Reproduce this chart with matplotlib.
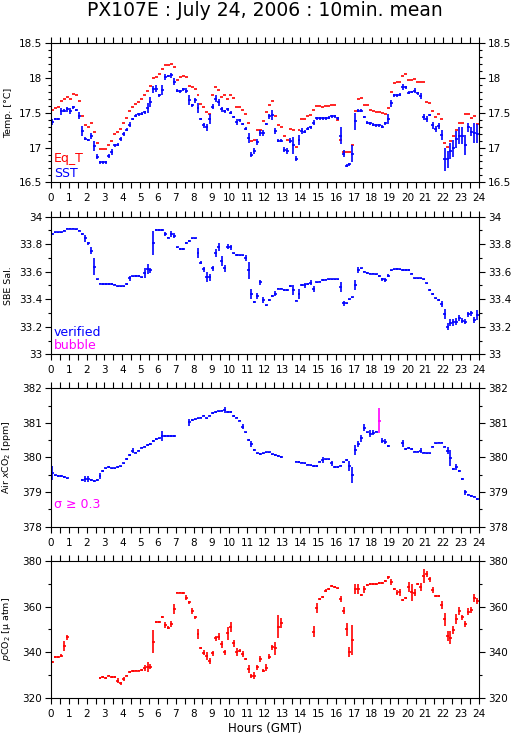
import numpy as np
import matplotlib
matplotlib.use("Agg")
import matplotlib.pyplot as plt  # noqa: E402
from matplotlib.ticker import MultipleLocator, FuncFormatter  # noqa: E402

nan = np.nan

# 10-minute means, 144 slots per day (one row = 2 hours)
eq_t = [
    17.54, 17.57, 17.58, 17.67, 17.70, 17.73, 17.70, 17.77, 17.75, 17.67, 17.46, 17.32,
    17.30, 17.35, 17.23, 17.06, 16.98, 16.98, 16.98, 17.04, 17.10, 17.20, 17.22, 17.27,
    17.35, 17.43, 17.52, 17.59, 17.63, 17.66, 17.70, 17.75, 17.81, 17.88, 18.00, 18.01,
    18.06, 18.13, 18.19, 18.19, 18.21, 18.16, 17.98, 18.02, 18.03, 18.01, 17.89, 17.87,
    17.85, 17.75, 17.63, 17.58, 17.51, 17.49, 17.76, 17.87, 17.83, 17.73, 17.75, 17.70,
    17.75, 17.71, 17.58, 17.58, 17.54, 17.48, 17.36, 17.10, 17.11, 17.25, 17.25, 17.38,
    17.51, 17.61, 17.67, 17.46, 17.32, 17.29, 17.17, 17.11, 17.27, 17.26, 17.01, 17.26,
    17.41, 17.41, 17.46, 17.47, 17.54, 17.60, 17.60, 17.58, 17.60, 17.60, 17.61, 17.61,
    17.40, 17.11, 16.93, 16.93, 16.93, 17.03, 17.52, 17.70, 17.71, 17.62, 17.61, 17.54,
    17.52, 17.51, 17.51, 17.50, 17.49, 17.57, 17.80, 17.93, 17.94, 17.94, 18.03, 18.06,
    17.97, 17.97, 17.99, 17.94, 17.94, 17.94, 17.66, 17.64, 17.52, 17.44, 17.48, 17.41,
    17.06, 17.01, 17.09, 17.17, 17.26, 17.36, 17.35, 17.48, 17.48, 17.42, 17.45, 17.34,
]

sst = [
    17.37, 17.41, 17.41, 17.52, 17.53, 17.55, 17.53, 17.58, 17.54, 17.46, 17.24, 17.13,
    17.11, 17.17, 17.02, 16.87, 16.79, 16.79, 16.79, 16.88, 16.94, 17.03, 17.04, 17.12,
    17.19, 17.26, 17.33, 17.41, 17.46, 17.48, 17.49, 17.51, 17.57, 17.66, 17.84, 17.85,
    17.75, 17.83, 18.02, 18.03, 18.04, 17.95, 17.82, 17.81, 17.84, 17.82, 17.68, 17.61,
    17.68, 17.57, 17.41, 17.32, 17.29, 17.41, 17.59, 17.70, 17.65, 17.55, 17.52, 17.55,
    17.50, 17.44, 17.37, 17.39, 17.34, 17.27, 17.14, 16.90, 16.95, 17.08, 17.21, 17.21,
    17.34, 17.45, 17.47, 17.24, 17.10, 17.10, 16.97, 16.95, 17.10, 17.03, 16.84, 17.11,
    17.24, 17.23, 17.27, 17.29, 17.36, 17.42, 17.42, 17.42, 17.42, 17.43, 17.45, 17.45,
    17.42, 17.17, 16.91, 16.74, 16.76, 16.91, 17.38, 17.53, 17.53, 17.44, 17.36, 17.35,
    17.33, 17.32, 17.32, 17.30, 17.35, 17.41, 17.64, 17.75, 17.75, 17.76, 17.87, 17.87,
    17.79, 17.80, 17.82, 17.78, 17.74, 17.44, 17.41, 17.47, 17.32, 17.27, 17.31, 17.18,
    16.83, 16.83, 16.95, 16.99, 17.12, 17.17, 17.17, 17.04, 17.29, 17.23, 17.21, 17.20,
]
sst_sd = [
    0.04, 0.02, 0.02, 0.05, 0.02, 0.04, 0.04, 0.02, 0.02, 0.05, 0.07, 0.02,
    0.02, 0.04, 0.07, 0.04, 0.02, 0.02, 0.02, 0.03, 0.04, 0.02, 0.02, 0.03,
    0.03, 0.02, 0.04, 0.02, 0.02, 0.02, 0.02, 0.02, 0.07, 0.07, 0.05, 0.05,
    0.02, 0.07, 0.04, 0.02, 0.04, 0.05, 0.02, 0.02, 0.02, 0.04, 0.07, 0.02,
    0.04, 0.07, 0.02, 0.04, 0.05, 0.07, 0.04, 0.05, 0.05, 0.04, 0.02, 0.02,
    0.02, 0.02, 0.04, 0.02, 0.02, 0.02, 0.07, 0.04, 0.04, 0.04, 0.04, 0.04,
    0.02, 0.04, 0.07, 0.04, 0.02, 0.02, 0.04, 0.04, 0.04, 0.12, 0.04, 0.07,
    0.04, 0.02, 0.02, 0.02, 0.04, 0.02, 0.02, 0.02, 0.02, 0.02, 0.02, 0.02,
    0.02, 0.12, 0.05, 0.02, 0.02, 0.12, 0.12, 0.02, 0.02, 0.02, 0.02, 0.02,
    0.02, 0.02, 0.02, 0.02, 0.02, 0.07, 0.05, 0.02, 0.02, 0.02, 0.04, 0.02,
    0.02, 0.02, 0.04, 0.02, 0.04, 0.05, 0.04, 0.02, 0.05, 0.04, 0.04, 0.07,
    0.17, 0.12, 0.12, 0.12, 0.12, 0.12, 0.12, 0.14, 0.07, 0.07, 0.14, 0.14,
]

sal = [
    33.874, 33.886, 33.886, 33.886, 33.898, 33.913, 33.913, 33.913, 33.908, 33.898, 33.874, 33.843,
    33.806, 33.753, 33.637, 33.545, 33.513, 33.510, 33.510, 33.510, 33.510, 33.505, 33.494, 33.494,
    33.494, 33.510, 33.552, 33.567, 33.570, 33.570, 33.560, 33.588, 33.620, 33.610, 33.810, 33.903,
    33.903, 33.903, 33.874, 33.847, 33.874, 33.862, 33.777, 33.765, 33.765, 33.810, 33.823, 33.843,
    33.843, 33.738, 33.666, 33.617, 33.564, 33.560, 33.625, 33.738, 33.782, 33.680, 33.625, 33.782,
    33.777, 33.734, 33.722, 33.718, 33.720, 33.700, 33.610, 33.440, 33.380, 33.424, 33.523, 33.395,
    33.356, 33.395, 33.424, 33.440, 33.477, 33.477, 33.467, 33.467, 33.496, 33.470, 33.390, 33.436,
    33.504, 33.500, 33.510, 33.520, 33.475, 33.523, 33.528, 33.540, 33.543, 33.545, 33.545, 33.545,
    33.545, 33.490, 33.370, 33.370, 33.400, 33.414, 33.504, 33.613, 33.625, 33.600, 33.590, 33.585,
    33.585, 33.580, 33.570, 33.545, 33.540, 33.570, 33.610, 33.617, 33.620, 33.617, 33.613, 33.613,
    33.613, 33.585, 33.552, 33.552, 33.552, 33.545, 33.516, 33.467, 33.438, 33.407, 33.395, 33.366,
    33.293, 33.201, 33.230, 33.232, 33.237, 33.262, 33.245, 33.237, 33.290, 33.298, 33.249, 33.286,
]
sal_sd = [
    0.005, 0.005, 0.005, 0.005, 0.005, 0.005, 0.005, 0.005, 0.005, 0.005, 0.010, 0.024,
    0.010, 0.024, 0.060, 0.005, 0.005, 0.005, 0.005, 0.005, 0.005, 0.005, 0.005, 0.005,
    0.005, 0.005, 0.020, 0.005, 0.005, 0.005, 0.005, 0.036, 0.036, 0.020, 0.085, 0.005,
    0.005, 0.005, 0.012, 0.005, 0.020, 0.020, 0.005, 0.005, 0.005, 0.005, 0.005, 0.005,
    0.005, 0.036, 0.010, 0.020, 0.036, 0.024, 0.020, 0.030, 0.030, 0.036, 0.024, 0.020,
    0.020, 0.005, 0.005, 0.005, 0.005, 0.020, 0.060, 0.036, 0.005, 0.024, 0.020, 0.024,
    0.005, 0.005, 0.010, 0.020, 0.005, 0.005, 0.005, 0.005, 0.005, 0.036, 0.005, 0.036,
    0.005, 0.020, 0.005, 0.020, 0.020, 0.005, 0.005, 0.005, 0.005, 0.005, 0.005, 0.005,
    0.005, 0.036, 0.020, 0.005, 0.005, 0.005, 0.036, 0.020, 0.005, 0.005, 0.005, 0.005,
    0.005, 0.005, 0.005, 0.010, 0.012, 0.012, 0.005, 0.005, 0.005, 0.005, 0.005, 0.005,
    0.005, 0.005, 0.005, 0.005, 0.005, 0.005, 0.005, 0.010, 0.010, 0.005, 0.005, 0.020,
    0.036, 0.024, 0.024, 0.024, 0.024, 0.020, 0.020, 0.020, 0.020, 0.020, 0.020, 0.036,
]

xco2 = [
    379.54, 379.48, 379.47, 379.46, 379.44, 379.40, nan, nan, nan, nan, 379.35, 379.38,
    379.38, 379.35, 379.32, 379.35, 379.46, 379.61, 379.69, 379.72, 379.69, 379.69, 379.72, 379.74,
    379.83, 379.96, 380.07, 380.20, 380.14, 380.20, 380.28, 380.31, 380.36, 380.39, 380.48, 380.53,
    380.55, 380.62, 380.62, 380.62, 380.62, 380.62, nan, nan, nan, nan, 381.02, 381.08,
    381.10, 381.13, 381.15, 381.21, 381.13, 381.21, 381.28, 381.31, 381.33, 381.35, 381.37, 381.31,
    381.31, 381.20, 381.15, 381.06, 380.89, 380.73, 380.51, 380.39, 380.22, 380.12, 380.10, 380.12,
    380.15, 380.15, 380.09, 380.07, 380.04, 380.01, nan, nan, nan, nan, 379.88, 379.87,
    379.85, 379.83, 379.79, 379.77, 379.75, 379.75, 379.88, 379.93, 379.95, 379.95, 379.83, 379.72,
    379.72, 379.76, 379.86, 379.93, 379.75, 379.49, 380.22, 380.39, 380.55, 380.86, 380.73, 380.68,
    380.72, 380.75, 381.06, 380.49, 380.46, 380.33, nan, nan, nan, nan, 380.41, 380.24,
    380.27, 380.24, 380.17, 380.17, 380.20, 380.14, 380.12, 380.12, 380.31, 380.41, 380.43, 380.43,
    380.31, 380.20, 379.98, 379.67, 379.73, 379.61, 379.38, 378.99, 378.93, 378.89, 378.87, 378.80,
]
xco2_sd = [
    0.20, 0.02, 0.02, 0.02, 0.02, 0.02, 0.00, 0.00, 0.00, 0.00, 0.02, 0.08,
    0.08, 0.02, 0.02, 0.02, 0.08, 0.02, 0.02, 0.02, 0.02, 0.02, 0.02, 0.02,
    0.02, 0.02, 0.02, 0.08, 0.02, 0.02, 0.02, 0.02, 0.02, 0.02, 0.02, 0.02,
    0.02, 0.15, 0.02, 0.02, 0.02, 0.02, 0.00, 0.00, 0.00, 0.00, 0.10, 0.02,
    0.02, 0.02, 0.02, 0.02, 0.02, 0.02, 0.02, 0.02, 0.02, 0.02, 0.08, 0.02,
    0.02, 0.02, 0.02, 0.02, 0.08, 0.02, 0.02, 0.08, 0.02, 0.02, 0.02, 0.02,
    0.02, 0.02, 0.02, 0.02, 0.02, 0.02, 0.00, 0.00, 0.00, 0.00, 0.02, 0.02,
    0.02, 0.02, 0.02, 0.02, 0.02, 0.02, 0.02, 0.08, 0.02, 0.02, 0.08, 0.02,
    0.02, 0.02, 0.02, 0.02, 0.15, 0.24, 0.15, 0.10, 0.10, 0.10, 0.02, 0.10,
    0.08, 0.02, 0.36, 0.08, 0.08, 0.02, 0.00, 0.00, 0.00, 0.00, 0.10, 0.02,
    0.02, 0.02, 0.02, 0.02, 0.08, 0.02, 0.02, 0.02, 0.02, 0.02, 0.02, 0.02,
    0.02, 0.10, 0.24, 0.02, 0.08, 0.02, 0.02, 0.08, 0.02, 0.02, 0.02, 0.02,
]

pco2 = [
    335.7, 337.9, 337.9, 338.6, 342.8, 346.6, nan, nan, nan, nan, nan, nan,
    nan, nan, nan, nan, 328.7, 329.1, 328.7, 329.9, 329.4, 329.3, 327.7, 326.5,
    328.4, 329.9, 331.3, 331.9, 332.1, 332.1, 332.3, 333.1, 333.8, 333.8, 344.7, 353.1,
    353.1, 355.3, 352.0, 350.8, 352.3, 358.9, 366.1, 366.1, 365.8, 363.9, 361.8, 358.1,
    355.3, 347.9, 341.8, 339.9, 338.6, 336.3, 339.6, 346.1, 346.9, 343.5, 340.0, 348.3,
    351.2, 344.0, 340.3, 340.8, 339.3, 337.0, 332.6, 329.7, 329.9, 333.5, 337.1, 332.1,
    333.4, 338.2, 342.2, 341.8, 351.2, 353.0, nan, nan, nan, nan, nan, nan,
    nan, nan, nan, nan, 349.1, 359.5, 363.3, 364.3, 366.9, 367.7, 369.0, 368.4,
    367.9, 363.3, 358.2, 350.1, 340.3, 345.4, 367.5, 367.5, 365.0, 367.5, 369.4, 369.7,
    369.7, 369.7, 370.4, 370.1, 371.1, 372.7, 370.6, 367.7, 366.1, 366.2, 362.9, 363.6,
    368.4, 366.2, 366.1, 369.7, 368.4, 373.3, 374.2, 371.9, 367.2, 364.6, 364.6, 360.7,
    354.4, 347.2, 346.4, 349.8, 354.4, 358.1, 355.3, 352.3, 357.8, 358.5, 363.6, 362.4,
]
pco2_sd = [
    0.4, 0.4, 0.4, 0.7, 2.2, 1.2, 0.0, 0.0, 0.0, 0.0, 0.0, 0.0,
    0.0, 0.0, 0.0, 0.0, 0.4, 0.4, 0.4, 0.4, 0.4, 0.4, 1.2, 0.7,
    0.7, 0.4, 0.4, 0.4, 0.4, 0.4, 0.4, 1.2, 2.2, 1.2, 5.1, 0.4,
    0.4, 0.4, 1.2, 0.7, 1.2, 2.2, 0.4, 0.4, 0.4, 1.2, 0.7, 1.2,
    0.7, 2.2, 0.4, 1.2, 1.7, 1.2, 1.2, 1.2, 1.5, 1.5, 1.2, 2.9,
    2.2, 1.5, 1.7, 0.7, 1.5, 0.4, 1.7, 0.7, 1.5, 1.2, 1.2, 0.7,
    1.5, 1.2, 1.2, 2.9, 5.1, 2.2, 0.0, 0.0, 0.0, 0.0, 0.0, 0.0,
    0.0, 0.0, 0.0, 0.0, 2.2, 2.2, 0.4, 0.4, 0.7, 0.4, 0.4, 0.4,
    0.4, 1.2, 1.5, 2.9, 2.2, 6.5, 2.2, 2.2, 0.4, 1.5, 0.4, 0.4,
    0.4, 0.4, 0.4, 0.4, 0.4, 0.7, 1.2, 0.4, 1.2, 1.5, 0.4, 0.4,
    2.2, 3.6, 1.5, 0.4, 1.7, 2.9, 1.5, 1.2, 1.5, 0.4, 0.4, 1.7,
    2.9, 2.2, 2.9, 1.7, 2.2, 1.7, 1.2, 1.2, 1.5, 1.2, 1.7, 1.5,
]

hours = (np.arange(144) + 0.5) / 6.0
half_slot = 1.0 / 12.0

BLUE = "#0000ff"
RED = "#ff0000"
MAGENTA = "#ff00ff"

plt.rcParams["font.family"] = ["DejaVu Sans"]
plt.rcParams["mathtext.fontset"] = "dejavusans"

# tick labels like "18", "33.8" (no trailing zeros)
short_fmt = FuncFormatter(lambda v, pos: "%g" % round(v, 6))


def draw_bars(ax, y, sd, color):
    y = np.asarray(y, dtype=float)
    ok = ~np.isnan(y)
    yerr = None if sd is None else np.asarray(sd, dtype=float)[ok]
    ax.errorbar(hours[ok], y[ok], xerr=half_slot, yerr=yerr, fmt="none",
                ecolor=color, elinewidth=1.2, capsize=0)


def setup(ax, ylim, major, minor, ylabel):
    ax.set_xlim(0, 24)
    ax.set_ylim(*ylim)
    ax.xaxis.set_major_locator(MultipleLocator(1))
    ax.xaxis.set_minor_locator(MultipleLocator(0.5))
    ax.yaxis.set_major_locator(MultipleLocator(major))
    ax.yaxis.set_minor_locator(MultipleLocator(minor))
    ax.yaxis.set_major_formatter(short_fmt)
    ax.tick_params(which="both", direction="out", top=True, right=True,
                   labelright=True, width=0.8, labelsize=7.5, colors="black")
    ax.tick_params(axis="x", which="both", length=4, pad=4)
    ax.tick_params(axis="y", which="major", length=4.5, pad=2)
    ax.tick_params(axis="y", which="minor", length=2.5)
    for sp in ax.spines.values():
        sp.set_linewidth(0.8)
    ax.set_ylabel(ylabel, fontsize=6.8)
    ax.yaxis.set_label_coords(-0.088, 0.5)


fig = plt.figure(figsize=(5.15, 7.39), dpi=100)
left, width = 0.099, 0.8305
ax1 = fig.add_axes([left, 0.7533, width, 0.1880])
ax2 = fig.add_axes([left, 0.5206, width, 0.1862])
ax3 = fig.add_axes([left, 0.2873, width, 0.1873])
ax4 = fig.add_axes([left, 0.0551, width, 0.1862])

# Temperature
setup(ax1, (16.5, 18.5), 0.5, 0.1, "Temp. [°C]")
draw_bars(ax1, eq_t, None, RED)
draw_bars(ax1, sst, sst_sd, BLUE)
ax1.text(0.007, 0.144, "Eq_T", color=RED, fontsize=9, transform=ax1.transAxes, va="baseline")
ax1.text(0.007, 0.038, "SST", color=BLUE, fontsize=9, transform=ax1.transAxes, va="baseline")

# Salinity
setup(ax2, (33, 34), 0.2, 0.1, "SBE Sal.")
draw_bars(ax2, sal, sal_sd, BLUE)
ax2.text(0.007, 0.133, "verified", color=BLUE, fontsize=9, transform=ax2.transAxes, va="baseline")
ax2.text(0.007, 0.039, "bubble", color=MAGENTA, fontsize=9, transform=ax2.transAxes, va="baseline")

# Air xCO2, flagged where sigma >= 0.3
setup(ax3, (378, 382), 1, 0.5, "Air $x$CO$_2$ [ppm]")
xco2_arr = np.asarray(xco2, dtype=float)
xco2_sd_arr = np.asarray(xco2_sd, dtype=float)
high = xco2_sd_arr >= 0.3
draw_bars(ax3, np.where(high, nan, xco2_arr), xco2_sd_arr, BLUE)
draw_bars(ax3, np.where(high, xco2_arr, nan), xco2_sd_arr, MAGENTA)
ax3.text(0.007, 0.135, "σ ≥ 0.3", color=MAGENTA, fontsize=9, transform=ax3.transAxes, va="baseline")

# pCO2
setup(ax4, (320, 380), 20, 10, "$p$CO$_2$ [µ atm]")
draw_bars(ax4, pco2, pco2_sd, RED)
ax4.set_xlabel("Hours (GMT)", fontsize=8.5, labelpad=2)

fig.text(0.514, 1 - 15.5 / 739, "PX107E : July 24, 2006 : 10min. mean",
         ha="center", va="baseline", fontsize=13.5)

fig.savefig("out.png", dpi=100)
